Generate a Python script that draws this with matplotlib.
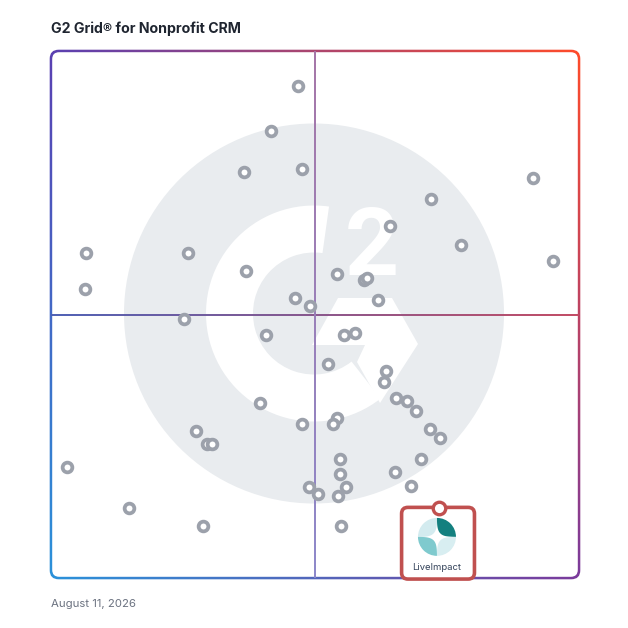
import numpy as np
import matplotlib
matplotlib.use("Agg")
import matplotlib.pyplot as plt
from matplotlib.patches import FancyBboxPatch, Circle, Wedge, Polygon
from matplotlib.collections import LineCollection
from matplotlib.colors import to_rgb

# satisfaction (x) / market presence (y), 0-100 scale
sat = [46.8, 41.7, 36.6, 47.5, 91.3, 71.9, 64.2, 77.7, 26.0, 6.6, 95.1, 36.9,
       54.2, 59.3, 59.9, 6.4, 62.0, 46.2, 49.1, 25.1, 40.8, 55.5, 57.6, 52.4,
       63.4, 63.1, 65.3, 67.4, 69.2, 39.5, 54.1, 53.4, 47.5, 27.5, 29.5, 30.5,
       71.7, 73.7, 54.8, 70.0, 54.7, 65.1, 48.8, 50.6, 55.8, 54.4, 68.1, 3.0,
       14.8, 28.8, 54.9]
pres = [93.4, 84.8, 77.1, 77.7, 75.9, 71.9, 66.7, 63.1, 61.7, 61.7, 60.2, 58.2,
        57.6, 56.6, 56.9, 54.8, 52.8, 53.1, 51.6, 49.1, 46.1, 46.1, 46.4, 40.6,
        39.2, 37.1, 34.1, 33.6, 31.7, 33.2, 30.4, 29.3, 29.3, 27.8, 25.4, 25.5,
        28.3, 26.6, 22.6, 22.6, 19.7, 20.2, 17.2, 15.9, 17.3, 15.5, 17.4, 21.1,
        13.3, 9.9, 9.9]
hl_name = "LiveImpact"
hl_sat, hl_pres = 73.5, 13.3

title = "G2 Grid® for Nonprofit CRM"
date_label = "August 11, 2026"

W = 628
fig = plt.figure(figsize=(6.28, 6.28), dpi=100)

# decoration layer in pixel coords (y up)
bg = fig.add_axes([0, 0, 1, 1])
bg.set_xlim(0, W)
bg.set_ylim(0, W)
bg.axis("off")

L, R, T, B = 51, 579, 628 - 51, 628 - 578
c_tl, c_tr = np.array(to_rgb("#5a40b2")), np.array(to_rgb("#ff4b2a"))
c_bl, c_br = np.array(to_rgb("#2b92da")), np.array(to_rgb("#7b3b9c"))
u = np.linspace(0, 1, 200)[None, :, None]
v = np.linspace(0, 1, 200)[:, None, None]
grad = (1 - v) * ((1 - u) * c_tl + u * c_tr) + v * ((1 - u) * c_bl + u * c_br)
outer = FancyBboxPatch((L - 1.3, B - 1.3), R - L + 2.6, T - B + 2.6,
                       boxstyle="round,pad=0,rounding_size=9", fc="none", ec="none")
bg.add_patch(outer)
im = bg.imshow(grad, extent=(L - 2, R + 2, B - 2, T + 2), origin="upper",
               interpolation="bilinear", aspect="auto")
im.set_clip_path(outer)
bg.add_patch(FancyBboxPatch((L + 1.2, B + 1.2), R - L - 2.4, T - B - 2.4,
                            boxstyle="round,pad=0,rounding_size=7", fc="white", ec="none"))

# G2 watermark
cx, cy = 314, 628 - 313.5
bg.add_patch(Circle((cx, cy), 190, fc="#e9ecef", ec="none"))
bg.add_patch(Wedge((cx, cy), 108, 82, 308, width=47, fc="white", ec="none"))
chev = [(338, 298), (392, 298), (418, 344), (380, 403), (357, 362), (365, 345), (312, 345)]
bg.add_patch(Polygon([(x, 628 - y) for x, y in chev], closed=True, fc="white", ec="none"))
bg.text(372, 628 - 249, "2", fontsize=68, fontweight="bold", family="Roboto",
        color="white", ha="center", va="center")

fig.text(51 / W, 1 - 29 / W, title, fontsize=10.2, fontweight="bold", family="Inter",
         color="#1f2530", ha="left", va="center")
fig.text(51 / W, 1 - 604 / W, date_label, fontsize=8.2, family="Inter",
         color="#6b7280", ha="left", va="center")

# data axes
ax = fig.add_axes([L / W, B / W, (R - L) / W, (T - B) / W])
ax.set_xlim(0, 100)
ax.set_ylim(0, 100)
ax.patch.set_alpha(0)
ax.axis("off")

n = 120
t = np.linspace(0, 100, n + 1)
hc0, hc1 = np.array(to_rgb("#4d5fb4")), np.array(to_rgb("#c24a62"))
vc0, vc1 = np.array(to_rgb("#8b86c9")), np.array(to_rgb("#a474a6"))
f = np.linspace(0, 1, n)[:, None]
hseg = [[(t[i], 50), (t[i + 1], 50)] for i in range(n)]
vseg = [[(50, t[i]), (50, t[i + 1])] for i in range(n)]
ax.add_collection(LineCollection(hseg, colors=(1 - f) * hc0 + f * hc1, linewidths=1.4))
ax.add_collection(LineCollection(vseg, colors=(1 - f) * vc0 + f * vc1, linewidths=1.4))

ax.plot(sat, pres, "o", ms=7, mfc="white", mec="#9ca1ab", mew=2.7, ls="none")

# highlighted product
red = "#c0504f"
ax.add_patch(FancyBboxPatch((hl_sat - 7.1, hl_pres - 13.5), 13.8, 13.6,
                            boxstyle="round,pad=0,rounding_size=1.2",
                            fc="white", ec=red, lw=2.6, clip_on=False, zorder=4))
ax.plot([hl_sat], [hl_pres], "o", ms=9, mfc="white", mec=red, mew=2.4,
        clip_on=False, zorder=6)
lx, ly, lr = hl_sat - 0.4, hl_pres - 5.5, 3.6
ax.add_patch(Wedge((lx, ly), lr, 90, 180, fc="#d3ebef", ec="none", zorder=5))
ax.add_patch(Wedge((lx, ly), lr, 0, 90, fc="#13807f", ec="none", zorder=5))
ax.add_patch(Wedge((lx, ly), lr, 180, 270, fc="#7fcace", ec="none", zorder=5))
ax.add_patch(Wedge((lx, ly), lr, 270, 360, fc="#d8eef1", ec="none", zorder=5))
s = np.linspace(0, 2 * np.pi, 400)
c, sn = np.cos(s), np.sin(s)
ast = np.column_stack([lx + lr * 1.02 * np.sign(c) * np.abs(c) ** 5,
                       ly + lr * 1.02 * np.sign(sn) * np.abs(sn) ** 5])
ax.add_patch(Polygon(ast, closed=True, fc="white", ec="none", zorder=5))
ax.text(lx, hl_pres - 11.3, hl_name, fontsize=6.8, family="Inter", color="#34435a",
        ha="center", va="center", zorder=6)

fig.savefig("out.png", dpi=100, facecolor="white")
